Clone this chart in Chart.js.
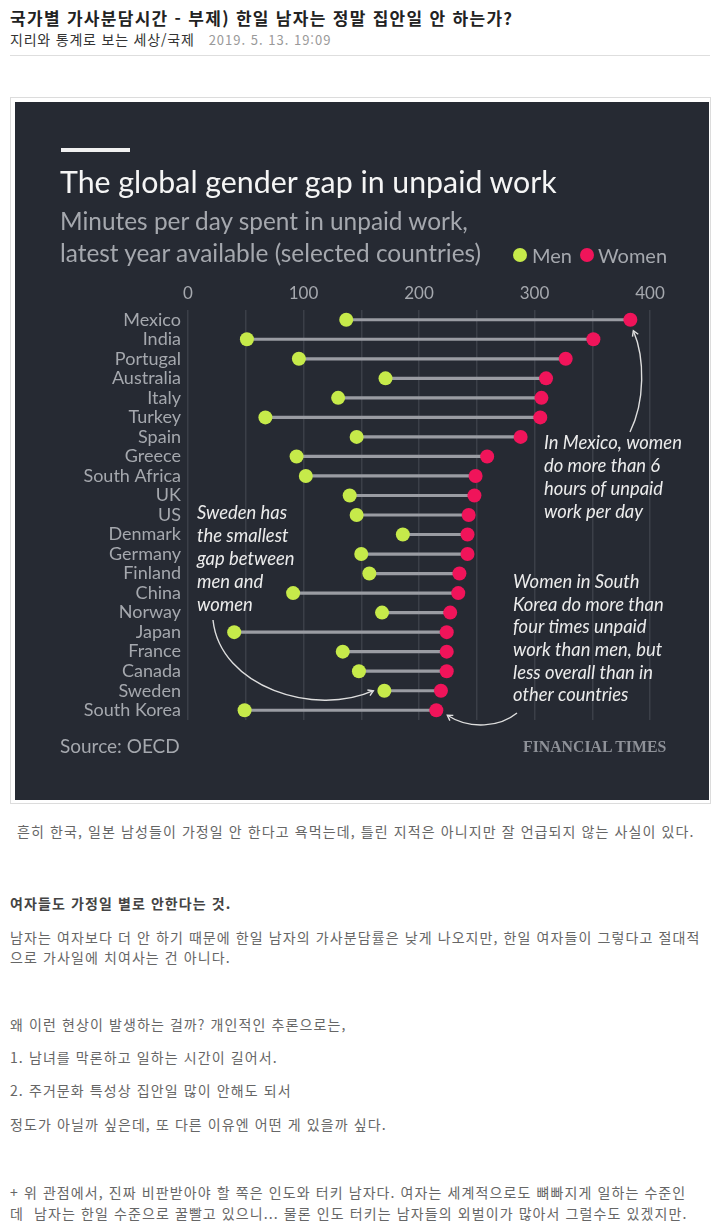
<!DOCTYPE html>
<html lang="ko">
<head>
<meta charset="utf-8">
<title>국가별 가사분담시간</title>
<script src="https://cdn.jsdelivr.net/npm/chart.js@4.4.1/dist/chart.umd.min.js"></script>
<style>
  html, body { margin: 0; padding: 0; background: #fff; }
  body { position: relative; width: 727px; height: 1224px; overflow: hidden; font-family: "Noto Sans CJK KR", sans-serif; }
  .abs { position: absolute; white-space: nowrap; }
  #postTitle { left: 10px; top: 6px; font-size: 17px; line-height: 24px; font-weight: bold; color: #222; letter-spacing: 1.3px; }
  #postCat { left: 10px; top: 29px; font-size: 14px; line-height: 20px; color: #333; letter-spacing: 0.8px; }
  #postCat span { color: #999; font-size: 13px; margin-left: 14px; letter-spacing: 1px; }
  #rule { left: 10px; top: 55px; width: 700px; height: 1px; background: #dedede; }
  #frame { position: absolute; left: 10px; top: 97px; padding: 4px 1px 3px 4px; border: 1px solid #dcdcdc; }
  #box { position: relative; width: 694px; height: 698px; background: #262a33; font-family: Lato, sans-serif; }
  #box canvas { position: absolute; left: 0; top: 0; }
  #ftBar { left: 46px; top: 46px; width: 69px; height: 4px; background: #f0f0f0; }
  #ftTitle { left: 45px; top: 64px; font-size: 30.3px; line-height: 30px; color: #f5f5f5; }
  #ftSub { left: 45px; top: 103px; font-size: 24.4px; line-height: 32px; color: #a5a8ae; }
  .dot { position: absolute; width: 14px; height: 14px; border-radius: 50%; }
  .legTxt { font-size: 20px; line-height: 24px; color: #a5a8ae; }
  #source { left: 45px; top: 632px; font-size: 19px; line-height: 24px; color: #a5a8ae; }
  #ftLogo { left: 508px; top: 635px; font-family: "Liberation Serif", serif; font-weight: bold; font-size: 15.8px; line-height: 20px; color: #8e9198; }
  .body { left: 10px; font-size: 14px; line-height: 20px; color: #666; letter-spacing: 1.1px; }
</style>
</head>
<body>
<div class="abs" id="postTitle">국가별 가사분담시간 - 부제) 한일 남자는 정말 집안일 안 하는가?</div>
<div class="abs" id="postCat">지리와 통계로 보는 세상/국제<span>2019. 5. 13. 19:09</span></div>
<div class="abs" id="rule"></div>

<div id="frame">
  <div id="box">
    <canvas id="myChart" width="694" height="698"></canvas>
    <div class="abs" id="ftBar"></div>
    <div class="abs" id="ftTitle">The global gender gap in unpaid work</div>
    <div class="abs" id="ftSub">Minutes per day spent in unpaid work,<br>latest year available (selected countries)</div>
    <div class="dot" style="left:498px; top:146px; background:#c6ea4a"></div>
    <div class="abs legTxt" style="left:517px; top:141px">Men</div>
    <div class="dot" style="left:565px; top:146px; background:#f0145a"></div>
    <div class="abs legTxt" style="left:583px; top:141px">Women</div>
    <div class="abs" id="source">Source: OECD</div>
    <div class="abs" id="ftLogo">FINANCIAL TIMES</div>
  </div>
</div>

<div class="abs body" style="left:17px; top:821px">흔히 한국, 일본 남성들이 가정일 안 한다고 욕먹는데, 틀린 지적은 아니지만 잘 언급되지 않는 사실이 있다.</div>
<div class="abs body" style="top:893px; font-weight:bold; color:#444">여자들도 가정일 별로 안한다는 것.</div>
<div class="abs body" style="top:927px">남자는 여자보다 더 안 하기 때문에 한일 남자의 가사분담률은 낮게 나오지만, 한일 여자들이 그렇다고 절대적</div>
<div class="abs body" style="top:947px">으로 가사일에 치여사는 건 아니다.</div>
<div class="abs body" style="top:1014px">왜 이런 현상이 발생하는 걸까? 개인적인 추론으로는,</div>
<div class="abs body" style="top:1047px">1. 남녀를 막론하고 일하는 시간이 길어서.</div>
<div class="abs body" style="top:1080px">2. 주거문화 특성상 집안일 많이 안해도 되서</div>
<div class="abs body" style="top:1114px">정도가 아닐까 싶은데, 또 다른 이유엔 어떤 게 있을까 싶다.</div>
<div class="abs body" style="top:1182px">+ 위 관점에서, 진짜 비판받아야 할 쪽은 인도와 터키 남자다. 여자는 세계적으로도 뼈빠지게 일하는 수준인</div>
<div class="abs body" style="top:1203px">데&nbsp; 남자는 한일 수준으로 꿀빨고 있으니... 물론 인도 터키는 남자들의 외벌이가 많아서 그럴수도 있겠지만.</div>

<script>
// minutes per day of unpaid work
const countries = ["Mexico", "India", "Portugal", "Australia", "Italy", "Turkey", "Spain", "Greece",
  "South Africa", "UK", "US", "Denmark", "Germany", "Finland", "China", "Norway", "Japan",
  "France", "Canada", "Sweden", "South Korea"];
const menMinutes = [137, 51, 96, 171, 130, 67, 146, 94, 102, 140, 146, 186, 150, 157, 91, 168, 40, 134, 148, 170, 49];
const womenMinutes = [383, 351, 327, 310, 306, 305, 288, 259, 249, 248, 243, 242, 242, 235, 234, 227, 224, 224, 224, 219, 215];
const xTickLabels = [0, 100, 200, 300, 400];

const mexicoNote = ["In Mexico, women", "do more than 6", "hours of unpaid", "work per day"];
const swedenNote = ["Sweden has", "the smallest", "gap between", "men and", "women"];
const koreaNote = ["Women in South", "Korea do more than", "four times unpaid", "work than men, but",
  "less overall than in", "other countries"];

const GREEN = "#c6ea4a";
const RED = "#f0145a";
const GREY_TXT = "#a5a8ae";

Chart.defaults.font.family = "Lato";

function arrow(ctx, p0, c1, c2, p1) {
  ctx.beginPath();
  ctx.moveTo(p0[0], p0[1]);
  ctx.bezierCurveTo(c1[0], c1[1], c2[0], c2[1], p1[0], p1[1]);
  ctx.stroke();
  const ang = Math.atan2(p1[1] - c2[1], p1[0] - c2[0]);
  const len = 6;
  ctx.beginPath();
  ctx.moveTo(p1[0] - len * Math.cos(ang - 0.55), p1[1] - len * Math.sin(ang - 0.55));
  ctx.lineTo(p1[0], p1[1]);
  ctx.lineTo(p1[0] - len * Math.cos(ang + 0.55), p1[1] - len * Math.sin(ang + 0.55));
  ctx.stroke();
}

// italic call-outs and their curved arrows
const notesPlugin = {
  id: "notes",
  afterDatasetsDraw(chart) {
    const { ctx, scales: { x, y } } = chart;
    ctx.save();
    ctx.font = "italic 18.4px Lato";
    ctx.fillStyle = "#ececec";
    ctx.textBaseline = "middle";
    const lines = (arr, left, top, step) => arr.forEach((t, i) => ctx.fillText(t, left, top + i * step));
    lines(mexicoNote, 529, 341, 23);
    lines(swedenNote, 182, 411, 23);
    lines(koreaNote, 498, 480, 22.7);

    ctx.strokeStyle = "#dedede";
    ctx.lineWidth = 1.4;
    const mx = x.getPixelForValue(womenMinutes[0]), my = y.getPixelForValue(0);
    arrow(ctx, [615, 330], [630, 300], [630, 256], [mx + 3, my + 11]);
    const sIdx = countries.indexOf("Sweden");
    const sx = x.getPixelForValue(menMinutes[sIdx]), sy = y.getPixelForValue(sIdx);
    arrow(ctx, [198, 518], [205, 585], [300, 615], [sx - 11, sy]);
    const kIdx = countries.indexOf("South Korea");
    const kx = x.getPixelForValue(womenMinutes[kIdx]), ky = y.getPixelForValue(kIdx);
    arrow(ctx, [502, 611], [485, 625], [455, 628], [kx + 11, ky + 5]);
    ctx.restore();
  }
};

const ctx = document.getElementById("myChart").getContext("2d");
new Chart(ctx, {
  type: "bar",
  data: {
    labels: countries,
    datasets: [
      {
        label: "gap",
        data: countries.map((c, i) => [menMinutes[i], womenMinutes[i]]),
        backgroundColor: "#9a9ca3",
        barThickness: 2.5,
        order: 3
      },
      {
        type: "line",
        label: "Men",
        data: countries.map((c, i) => ({ x: menMinutes[i], y: c })),
        showLine: false,
        pointRadius: 7,
        pointBackgroundColor: GREEN,
        pointBorderWidth: 0,
        order: 1
      },
      {
        type: "line",
        label: "Women",
        data: countries.map((c, i) => ({ x: womenMinutes[i], y: c })),
        showLine: false,
        pointRadius: 7,
        pointBackgroundColor: RED,
        pointBorderWidth: 0,
        order: 2
      }
    ]
  },
  options: {
    indexAxis: "y",
    responsive: false,
    animation: false,
    layout: { padding: { top: 178, right: 59, bottom: 80, left: 0 } },
    plugins: { legend: false, tooltip: { enabled: false } },
    scales: {
      x: {
        position: "top",
        min: 0,
        max: 400,
        afterFit: (scale) => { scale.height = 30; },
        grid: { color: "#3b3f48", lineWidth: 1.5, drawTicks: false },
        border: { display: false },
        ticks: {
          stepSize: 50,
          padding: 6,
          color: GREY_TXT,
          font: { size: 17 },
          callback: (v) => (xTickLabels.includes(v) ? v : "")
        }
      },
      y: {
        type: "category",
        offset: true,
        afterFit: (scale) => { scale.width = 173; },
        grid: { display: false, drawTicks: false },
        border: { display: false },
        ticks: { color: GREY_TXT, font: { size: 18 }, padding: 7, autoSkip: false }
      }
    }
  },
  plugins: [notesPlugin]
});
</script>
</body>
</html>
